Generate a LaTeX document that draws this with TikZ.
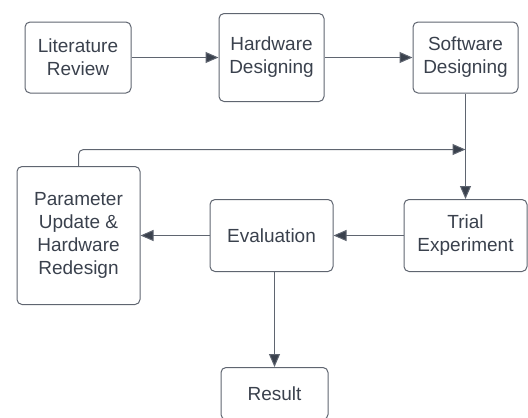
\documentclass[tikz,border=0pt]{standalone}
\usepackage{fontspec}
\setmainfont{Liberation Sans}
\usetikzlibrary{arrows.meta}
\definecolor{ln}{HTML}{5F6570}
\definecolor{tx}{HTML}{3A414D}
\definecolor{tip}{HTML}{3A414D}
\begin{document}
\begin{tikzpicture}[x=1pt,y=-1pt,
  box/.style={draw=ln, line width=1pt, rounded corners=5pt, inner sep=0pt,
    align=center, text=tx, font=\fontsize{19}{23}\selectfont},
  conn/.style={draw=ln, line width=1pt, -{Triangle[length=13pt,width=11pt,fill=tip]}}]
\useasboundingbox (0,0) rectangle (528,418);
\clip (0,0) rectangle (528,418);
\node[box, minimum width=106pt, minimum height=71pt] (lit) at (78,57.5) {Literature\\Review};
\node[box, minimum width=105pt, minimum height=88pt] (hw) at (271.5,57.5) {Hardware\\Designing};
\node[box, minimum width=105pt, minimum height=71pt] (sw) at (465.5,57.5) {Software\\Designing};
\node[box, minimum width=123pt, minimum height=138pt] (par) at (78.5,235.5) {Parameter\\Update \&\\Hardware\\Redesign};
\node[box, minimum width=123pt, minimum height=72pt] (ev) at (271.5,235.5) {Evaluation};
\node[box, minimum width=123pt, minimum height=72pt] (tr) at (465.5,235.5) {Trial\\Experiment};
\node[box, minimum width=107pt, minimum height=52pt] (res) at (274.5,393.5) {Result};
\coordinate (fb) at (465.5,149.5);
\draw[conn] (lit.east) -- (hw.west |- lit.east);
\draw[conn] (hw.east) -- (sw.west |- hw.east);
\draw[conn] (sw.south) -- (tr.north);
\draw[conn] (tr.west) -- (ev.east);
\draw[conn] (ev.west) -- (par.east);
\draw[conn] (res.north |- ev.south) -- (res.north);
\draw[conn, rounded corners=5pt] (par.north) |- (fb);
\end{tikzpicture}
\end{document}
